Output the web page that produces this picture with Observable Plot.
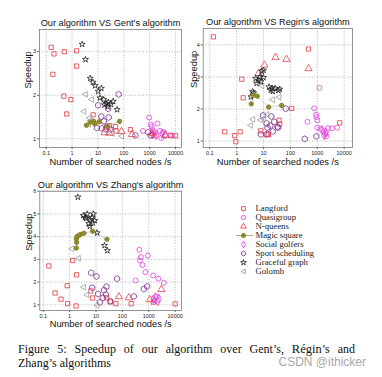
<!DOCTYPE html>
<html><head><meta charset="utf-8">
<script src="https://cdn.jsdelivr.net/npm/d3@7"></script>
<script src="https://cdn.jsdelivr.net/npm/@observablehq/plot@0.6"></script>
<style>
html,body{margin:0;padding:0;background:#fff}
body{width:382px;height:377px;overflow:hidden;position:relative;font-family:"Liberation Sans",Arial,sans-serif}
.abs{position:absolute}
.cap{font-family:"Liberation Serif","Times New Roman",serif;font-size:12px;color:#111;line-height:14px;white-space:nowrap}
</style></head><body>
<div id="p1" class="abs" style="left:0;top:0"></div>
<div id="p2" class="abs" style="left:182px;top:0"></div>
<div id="p3" class="abs" style="left:0;top:170px"></div>
<div id="leg" class="abs" style="left:191px;top:190px"></div>
<div class="abs cap" style="left:18px;top:342px;width:337px;text-align:justify;text-align-last:justify;white-space:normal">Figure 5: Speedup of our algorithm over Gent’s, <span style="font-size:12.5px">Régin</span>’s and</div>
<div class="abs cap" style="left:18px;top:356px">Zhang’s algorithms</div>
<div class="abs" style="right:16px;top:355px;font-size:12px;color:#a8a8a8;font-family:'Liberation Sans',Arial,sans-serif">CSDN @ithicker</div>
<script>
// ---------- data ----------
const seriesNames = ["Langford","Quasigroup","N-queens","Magic square","Social golfers","Sport scheduling","Graceful graph","Golomb"];
const xTicks = [0.1, 1, 10, 100, 1000, 10000];
const xLabel = "Number of searched nodes /s";
const yLabel = "Speedup";

// Gent panel
const gentYTicks = [1, 2, 3];
const gentLangford = [[0.155,3.1],[0.2,2.95],[0.5,3.0],[1.5,3.02],[1.5,2.67],[0.18,2.48],[0.48,1.98],[0.9,1.9],[0.62,1.57],[6.5,1.55],[22,1.27],[28,1.3],[48,1.28],[50,1.18],[180,1.21],[1500,1.08],[6300,1.08],[10000,1.07]];
const gentQuasi = [[950,1.49],[1100,1.33],[1200,1.28],[2000,1.35],[550,1.18],[1300,1.2],[1600,1.15],[2500,1.18],[3500,1.15],[2800,1.02],[7500,1.07]];
const gentNQueens = [[18,1.14],[28,1.13],[81,1.17],[209,1.1],[1230,1.13],[4000,1.08]];
const gentMagic = [[3.6,1.31],[5,1.38],[6.8,1.40],[7.5,1.34],[11,1.39],[23,1.29],[69,1.40]];
const gentGolfers = [[1800,1.08],[4000,1.1],[1300,1.1],[3000,1.12]];
const gentSport = [[63,2.02],[10.2,1.77],[25,1.69],[13.5,1.51],[26,1.49],[17,1.4],[14,1.24],[9.1,1.25],[20,1.22],[30,1.22],[280,1.08],[880,1.15],[1100,1.08]];
const gentGraceful = [[2.45,3.17],[3.3,2.82],[5,2.39],[6.3,2.30],[7.8,2.22],[10.2,2.09],[13.5,2.16],[12,1.94],[16.7,1.9],[21,1.81],[25,1.84],[32,1.79],[39,1.86],[55,1.67],[24,1.74],[18,1.78]];
const gentGolomb = [[3.2,2.02],[5.5,1.9],[2.8,1.63],[4.5,1.48],[5,1.42],[4.2,1.33],[35,1.12],[80,1.06]];

// Regin panel
const reginYTicks = [1, 2, 3, 4];
const reginLangford = [[0.137,4.25],[470,3.87],[1.55,2.93],[1.75,2.35],[112,2.02],[6800,1.57],[38,1.65],[40,1.53],[7.9,1.32],[0.36,1.29],[1.35,1.29],[0.85,1.17],[0.93,0.98],[15,1.22]];
const reginQuasi = [[1200,2.66],[760,2.02],[900,1.82],[950,1.75],[1000,1.65],[430,1.60],[1000,1.42],[1300,1.38],[1700,1.3],[2000,1.22],[2200,1.15],[2500,1.4],[3500,1.4],[5500,1.42]];
const reginNQueens = [[28,3.61],[71,3.55],[470,3.26],[10.7,3.37],[6.5,3.11],[14,1.2]];
const reginMagic = [[3.5,2.16],[4.1,2.42],[5.9,2.40],[15.5,2.06],[47,2.11]];
const reginGolfers = [[2100,1.28],[1500,1.35],[1800,1.18]];
const reginSport = [[9.6,1.80],[19.5,1.77],[67,2.01],[13,1.55],[25,1.6],[33,1.45],[14,1.42],[18,1.48],[7.9,1.21],[13,1.21],[35,1.42],[22,1.3],[340,1.07],[930,1.15]];
const reginGraceful = [[8.5,3.18],[10,3.21],[5.1,2.95],[6.5,2.9],[10,2.98],[5.5,2.8],[16,2.69],[21,2.65],[27,2.65],[36,2.58],[18.5,2.59],[3.9,2.54],[4.3,2.5],[3.4,2.38],[22,2.55],[40,2.62],[7.5,3.0],[8,2.85]];
const reginGolomb = [[8.5,2.72],[21,2.29],[37,2.37],[9.6,1.70],[7.6,1.66],[3.9,1.68],[3.2,1.49],[13,1.83]];

// Zhang panel
const zhangYTicks = [1, 2, 3, 4, 5, 6];
const zhangLangford = [[0.163,2.71],[1.3,2.95],[1.85,2.32],[0.81,1.84],[0.28,1.52],[0.47,1.25],[0.84,1.05],[1.75,0.95],[6.4,1.61],[7.4,1.3],[25,1.31],[35,1.13],[57,1.05],[215,1.05],[1500,1.12],[10000,1.04]];
const zhangQuasi = [[440,3.42],[460,2.95],[500,3.1],[920,3.17],[740,2.44],[315,2.07],[1470,2.29],[2300,2.15],[3700,1.97],[580,2.75],[2000,1.35],[1700,1.2]];
const zhangNQueens = [[74,1.36],[175,1.31],[3000,1.68],[1100,1.23]];
const zhangMagic = [[1.8,3.5],[1.85,3.75],[1.8,3.9],[1.9,4.0],[2.2,4.05],[2.6,4.1],[3.5,4.15],[7.5,4.24],[26,3.88]];
const zhangGolfers = [[1800,1.35],[2200,1.15],[1500,1.25],[2400,1.28]];
const zhangSport = [[6.6,2.41],[10.4,2.25],[63,2.15],[7.2,1.75],[25,1.8],[12,1.48],[24,1.45],[13.9,1.11],[35,1.16],[18,1.3],[270,1.37],[650,1.70],[870,1.81],[20,1.65]];
const zhangGraceful = [[2.05,5.74],[3.3,4.93],[4.6,5.0],[3.8,4.85],[5.3,4.57],[6,4.75],[7,4.85],[9,4.71],[5.8,4.45],[7.5,4.6],[11,4.17],[21,3.61],[27,3.39],[4.2,4.8],[8,5.0]];
const zhangGolomb = [[1.2,3.47],[2.1,3.05],[3.3,1.78],[4.4,1.44],[10.5,0.98]];

// ---------- styles ----------
const triLeft = {draw(ctx, size){ const r = Math.sqrt(size/Math.PI)*1.15; ctx.moveTo(-r,0); ctx.lineTo(r*0.75,-r); ctx.lineTo(r*0.75,r); ctx.closePath(); }};
const circlePlus = {draw(ctx, size){ const r = Math.sqrt(size/Math.PI); ctx.moveTo(r,0); ctx.arc(0,0,r,0,2*Math.PI); ctx.moveTo(-r,0); ctx.lineTo(r,0); ctx.moveTo(0,-r); ctx.lineTo(0,r); }};
const styles = {
  "Langford":        {symbol:"square",   stroke:"#e2363c", fill:"none",    r:2.4},
  "Quasigroup":      {symbol:"circle",   stroke:"#e23ee2", fill:"none",    r:2.5},
  "N-queens":        {symbol:"triangle", stroke:"#e2404e", fill:"none",    r:2.7},
  "Magic square":    {symbol:circlePlus, stroke:"#7a7620", fill:"#b3ae4a", r:2.2},
  "Social golfers":  {symbol:"diamond",  stroke:"#e23ee2", fill:"none",    r:2.6},
  "Sport scheduling":{symbol:"hexagon",  stroke:"#7c2c90", fill:"none",    r:2.6},
  "Graceful graph":  {symbol:"star",     stroke:"#222",    fill:"none",    r:1.9},
  "Golomb":          {symbol:triLeft,    stroke:"#9c9c9c", fill:"none",    r:2.5}
};

function dots(name, data){
  const s = styles[name];
  return Plot.dot(data, {x: d => d[0], y: d => d[1], symbol: s.symbol, stroke: s.stroke, fill: s.fill, r: s.r, strokeWidth: 0.8});
}

function panel(cfg){
  const gridStyle = {stroke:"#9a9a9a", strokeOpacity:1, strokeDasharray:"1,1.6", strokeWidth:0.7};
  return Plot.plot({
    width: cfg.width, height: cfg.height,
    marginLeft: cfg.ml, marginRight: cfg.mr, marginTop: cfg.mt, marginBottom: cfg.mb,
    style: {fontFamily: "'Liberation Sans', Arial, sans-serif", background: "transparent", color: "#222", overflow: "visible"},
    x: {type: "log", domain: cfg.xDomain, label: null},
    y: {domain: cfg.yDomain, label: null},
    marks: [
      Plot.gridX(xTicks, gridStyle),
      Plot.gridY(cfg.yTicks, gridStyle),
      Plot.frame({stroke: "#7a7a7a", strokeWidth: 0.8}),
      Plot.axisX(xTicks, {tickFormat: d => String(d), fontSize: 5.5, tickSize: 2, tickPadding: 1.5, label: null, stroke:"#666"}),
      Plot.axisY(cfg.yTicks, {tickFormat: d => String(d), fontSize: 5.5, tickSize: 2, tickPadding: 1.5, label: null, stroke:"#666"}),
      Plot.line(cfg.series["Magic square"], {x: d => d[0], y: d => d[1], stroke: "#a0a0a0", strokeWidth: 0.5}),
      ...["Langford","Quasigroup","Social golfers","Sport scheduling","Golomb","N-queens","Graceful graph","Magic square"].map(n => dots(n, cfg.series[n])),
      Plot.text([cfg.title], {frameAnchor: "top", dy: -10, fontSize: 9.2, fill: "#111"}),
      Plot.text([xLabel], {frameAnchor: "bottom", dy: cfg.xlDy, fontSize: 9.3, fill: "#111"}),
      Plot.text([yLabel], {frameAnchor: "left", dx: cfg.ylDx, rotate: -90, fontSize: 9.3, fill: "#111"})
    ]
  });
}

document.getElementById("p1").append(panel({
  width:191, height:170, ml:39, mr:10, mt:29, mb:23, xlDy:17, ylDx:-11,
  xDomain:[Math.pow(10,-1.26), Math.pow(10,4.23)], yDomain:[0.8,3.51], yTicks:gentYTicks,
  title:"Our algorithm VS Gent's algorithm",
  series:{"Langford":gentLangford,"Quasigroup":gentQuasi,"N-queens":gentNQueens,"Magic square":gentMagic,"Social golfers":gentGolfers,"Sport scheduling":gentSport,"Graceful graph":gentGraceful,"Golomb":gentGolomb}
}));
document.getElementById("p2").append(panel({
  width:190, height:170, ml:20.7, mr:20, mt:28, mb:23, xlDy:17, ylDx:-8.7,
  xDomain:[Math.pow(10,-1.245), Math.pow(10,4.31)], yDomain:[0.8,4.51], yTicks:reginYTicks,
  title:"Our algorithm VS Regin's algorithm",
  series:{"Langford":reginLangford,"Quasigroup":reginQuasi,"N-queens":reginNQueens,"Magic square":reginMagic,"Social golfers":reginGolfers,"Sport scheduling":reginSport,"Graceful graph":reginGraceful,"Golomb":reginGolomb}
}));
document.getElementById("p3").append(panel({
  width:191, height:165, ml:39.3, mr:10, mt:20.7, mb:25, xlDy:16, ylDx:-11,
  xDomain:[Math.pow(10,-1.13), Math.pow(10,4.24)], yDomain:[0.75,6], yTicks:zhangYTicks,
  title:"Our algorithm VS Zhang's algorithm",
  series:{"Langford":zhangLangford,"Quasigroup":zhangQuasi,"N-queens":zhangNQueens,"Magic square":zhangMagic,"Social golfers":zhangGolfers,"Sport scheduling":zhangSport,"Graceful graph":zhangGraceful,"Golomb":zhangGolomb}
}));

// legend
document.getElementById("leg").append(Plot.plot({
  width:191, height:100, margin:0,
  style:{background:"transparent", overflow:"visible"},
  x:{domain:[0,191], range:[0,191], axis:null},
  y:{type:"point", domain:seriesNames, range:[12, 12+7*10.8], axis:null},
  marks:[
    Plot.ruleY(["Magic square"], {y: d => d, x1: 45, x2: 62, stroke: "#8a8a5a", strokeWidth: 0.7}),
    ...seriesNames.map(n => Plot.dot([n], {x: 52, y: d => d, symbol: styles[n].symbol, stroke: styles[n].stroke, fill: styles[n].fill, r: n === "Graceful graph" ? 1.8 : 2.1, strokeWidth: 0.85})),
    Plot.text(seriesNames, {x: 64, y: d => d, text: d => d, textAnchor: "start", fontFamily: "'Liberation Serif','Times New Roman',serif", fontSize: 8.7, fill: "#222"})
  ]
}));
</script>
</body></html>
